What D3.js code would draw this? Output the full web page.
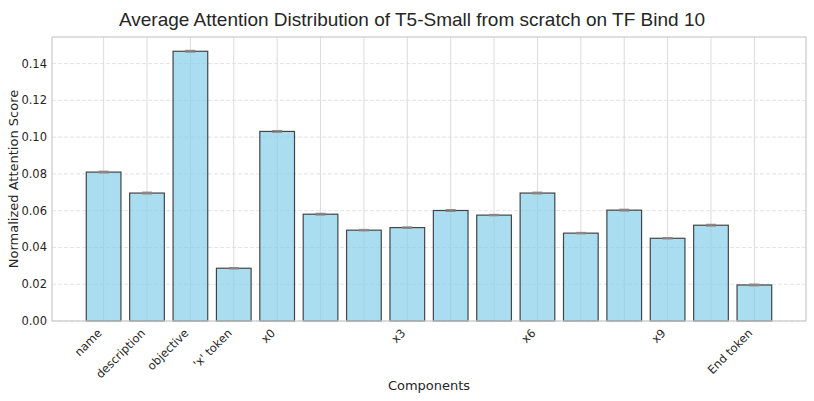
<!DOCTYPE html>
<html>
<head>
<meta charset="utf-8">
<script src="https://cdn.jsdelivr.net/npm/d3@7/dist/d3.min.js"></script>
<style>
  body { margin: 0; background: #fff; }
  text { fill: #262626; }
</style>
</head>
<body>
<div id="chart"></div>
<script>
const components = ["name", "description", "objective", "'x' token", "x0", "x1", "x2", "x3",
  "x4", "x5", "x6", "x7", "x8", "x9", "x10", "End token"];
const scores = [0.0810, 0.0696, 0.1467, 0.0287, 0.1031, 0.0581, 0.0494, 0.0508,
  0.0601, 0.0576, 0.0696, 0.0478, 0.0603, 0.0450, 0.0521, 0.0196];
const errors = [0.0004, 0.0004, 0.0004, 0.0003, 0.0004, 0.0004, 0.0003, 0.0003,
  0.0004, 0.0003, 0.0004, 0.0003, 0.0004, 0.0003, 0.0004, 0.0004];
// only some ticks get a label
const shownLabels = ["name", "description", "objective", "'x' token", "x0", "x3", "x6", "x9", "End token"];
const yTicks = [0, 0.02, 0.04, 0.06, 0.08, 0.10, 0.12, 0.14];

const width = 814, height = 401;
const margin = {top: 37, right: 8, bottom: 80, left: 52};

const svg = d3.select("#chart").append("svg")
  .attr("width", width)
  .attr("height", height);

const innerW = width - margin.left - margin.right;
const innerH = height - margin.top - margin.bottom;

const g = svg.append("g")
  .attr("transform", "translate(" + margin.left + "," + margin.top + ")");

// matplotlib-like margins: bars of width 0.8, 5% padding
const n = components.length;
const lo = -0.4, hi = n - 1 + 0.4, pad = (hi - lo) * 0.05;
const x = d3.scaleLinear().domain([lo - pad, hi + pad]).range([0, innerW]);
const yMax = d3.max(scores.map((s, i) => s + errors[i])) * 1.05;
const y = d3.scaleLinear().domain([0, yMax]).range([innerH, 0]);

// horizontal dashed grid
g.append("g").selectAll("line")
  .data(yTicks)
  .enter().append("line")
  .attr("x1", 0).attr("x2", innerW)
  .attr("y1", d => y(d)).attr("y2", d => y(d))
  .attr("stroke", "#cccccc")
  .attr("stroke-opacity", 0.7)
  .attr("stroke-dasharray", "4,2")
  .attr("stroke-width", 0.8);

// vertical solid grid
g.append("g").selectAll("line")
  .data(components)
  .enter().append("line")
  .attr("x1", (d, i) => x(i)).attr("x2", (d, i) => x(i))
  .attr("y1", 0).attr("y2", innerH)
  .attr("stroke", "#dcdcdc")
  .attr("stroke-width", 1);

// bars
const bw = x(0.8) - x(0);
g.append("g").selectAll("rect")
  .data(scores)
  .enter().append("rect")
  .attr("x", (d, i) => x(i) - bw / 2)
  .attr("y", d => y(d))
  .attr("width", bw)
  .attr("height", d => innerH - y(d))
  .attr("fill", "skyblue")
  .attr("fill-opacity", 0.7)
  .attr("stroke", "black")
  .attr("stroke-opacity", 0.7)
  .attr("stroke-width", 1.2);

// error bars
const eb = g.append("g").selectAll("g")
  .data(scores)
  .enter().append("g")
  .attr("stroke", "#888888")
  .attr("stroke-width", 1.4);
eb.append("line")
  .attr("x1", (d, i) => x(i)).attr("x2", (d, i) => x(i))
  .attr("y1", (d, i) => y(d - errors[i])).attr("y2", (d, i) => y(d + errors[i]));
[-1, 1].forEach(s => {
  eb.append("line")
    .attr("x1", (d, i) => x(i) - 5).attr("x2", (d, i) => x(i) + 5)
    .attr("y1", (d, i) => y(d + s * errors[i])).attr("y2", (d, i) => y(d + s * errors[i]));
});

// frame
g.append("rect")
  .attr("width", innerW).attr("height", innerH)
  .attr("fill", "none")
  .attr("stroke", "#cccccc")
  .attr("stroke-width", 1.25);

// y axis labels
g.append("g").selectAll("text")
  .data(yTicks)
  .enter().append("text")
  .attr("x", -5)
  .attr("y", d => y(d))
  .attr("dy", "0.35em")
  .attr("text-anchor", "end")
  .style("font-family", "DejaVu Sans")
  .style("font-size", "11.5px")
  .text(d => d3.format(".2f")(d));

// x tick labels, rotated
g.append("g").selectAll("text")
  .data(components)
  .enter().append("text")
  .filter(d => shownLabels.includes(d))
  .attr("transform", d => "translate(" + (x(components.indexOf(d)) - 4) + "," + (innerH + 10) + ") rotate(-45)")
  .attr("text-anchor", "end")
  .attr("dy", "0.35em")
  .style("font-family", "DejaVu Sans")
  .style("font-size", "11.5px")
  .text(d => d);

// axis titles
svg.append("text")
  .attr("x", margin.left + innerW / 2)
  .attr("y", 390)
  .attr("text-anchor", "middle")
  .style("font-family", "DejaVu Sans")
  .style("font-size", "13px")
  .text("Components");

svg.append("text")
  .attr("transform", "translate(18," + (margin.top + innerH / 2) + ") rotate(-90)")
  .attr("text-anchor", "middle")
  .style("font-family", "DejaVu Sans")
  .style("font-size", "13px")
  .text("Normalized Attention Score");

svg.append("text")
  .attr("x", 412)
  .attr("y", 26)
  .attr("text-anchor", "middle")
  .style("font-family", "Liberation Sans, Arial")
  .style("font-size", "19px")
  .text("Average Attention Distribution of T5-Small from scratch on TF Bind 10");
</script>
</body>
</html>
